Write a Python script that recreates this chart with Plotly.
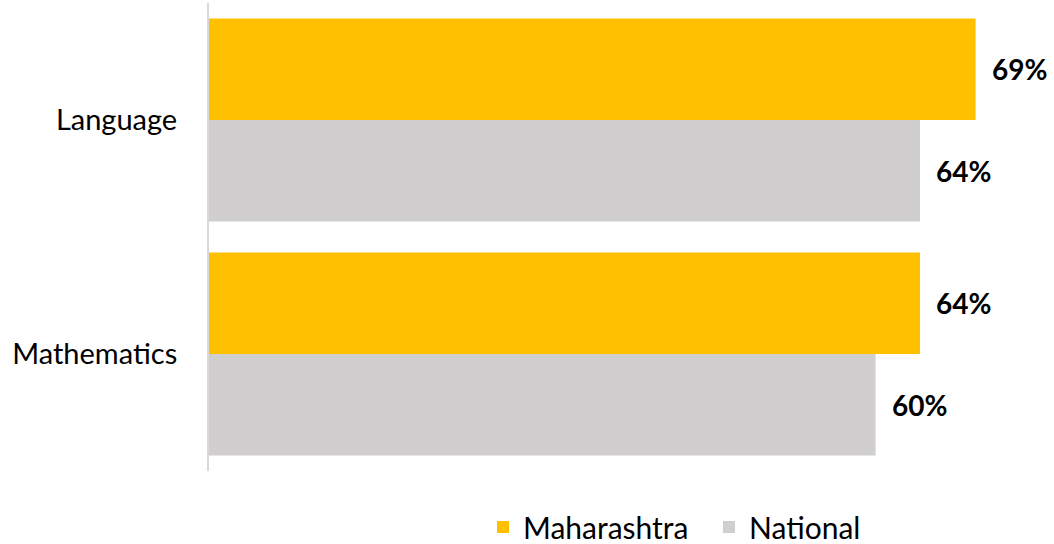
import plotly.graph_objects as go

categories = ["Language", "Mathematics"]
maharashtra = [69, 64]
national = [64, 60]
series_names = ["Maharashtra", "National"]
colors = ["#FFC000", "#D0CECE"]

FONT = "Lato"
W, H = 1054, 544
ML, MR, MT, MB = 209, 10, 3, 73
px_per_unit = 11.11
xmax = (W - ML - MR) / px_per_unit

legend_ids = ["legend", "legend2"]
legend_x = [483, 709]

fig = go.Figure()
for name, vals, col, lg in zip(series_names, [maharashtra, national], colors, legend_ids):
    fig.add_trace(go.Bar(
        y=categories, x=vals, name=name, orientation="h",
        marker=dict(color=col, line=dict(width=0)), legend=lg,
    ))

band = (H - MT - MB) / len(categories)
bargap = 31 / band
bar_h = band * (1 - bargap) / 2
annotations = []
for i, vals in enumerate([maharashtra, national]):
    shift = bar_h / 2 if i == 0 else -bar_h / 2
    for c, v in zip(categories, vals):
        annotations.append(dict(
            x=v, y=c, xref="x", yref="y", text=f"<b>{v}%</b>",
            showarrow=False, xanchor="left", yanchor="middle",
            xshift=14, yshift=shift,
            font=dict(family=FONT, size=28, color="#000000"),
        ))

def legend_cfg(xpx):
    return dict(
        orientation="h", xref="container", yref="container",
        x=xpx / W, xanchor="left", y=(H - 527) / H, yanchor="middle",
        font=dict(family=FONT, size=30, color="#000000"),
        itemwidth=30, tracegroupgap=0, bgcolor="rgba(0,0,0,0)",
    )

fig.update_layout(
    width=W, height=H,
    margin=dict(l=ML, r=MR, t=MT, b=MB, autoexpand=False),
    paper_bgcolor="white", plot_bgcolor="white",
    barmode="group", bargap=bargap, bargroupgap=0,
    font=dict(family=FONT, size=29, color="#000000"),
    showlegend=True,
    legend=legend_cfg(legend_x[0]),
    legend2=legend_cfg(legend_x[1]),
    annotations=annotations,
)
fig.update_xaxes(range=[0, xmax], showgrid=False, zeroline=False,
                 showticklabels=False, showline=False, automargin=False)
fig.update_yaxes(autorange="reversed", showgrid=False, zeroline=False,
                 showline=True, linecolor="#D9D9D9", linewidth=2,
                 ticks="", ticklabelstandoff=24, automargin=False,
                 tickfont=dict(family=FONT, size=29, color="#000000"))

fig.write_html(
    "out.html",
    config={"displayModeBar": False},
    post_script="document.body.style.margin='0';document.body.style.overflow='hidden';",
)
